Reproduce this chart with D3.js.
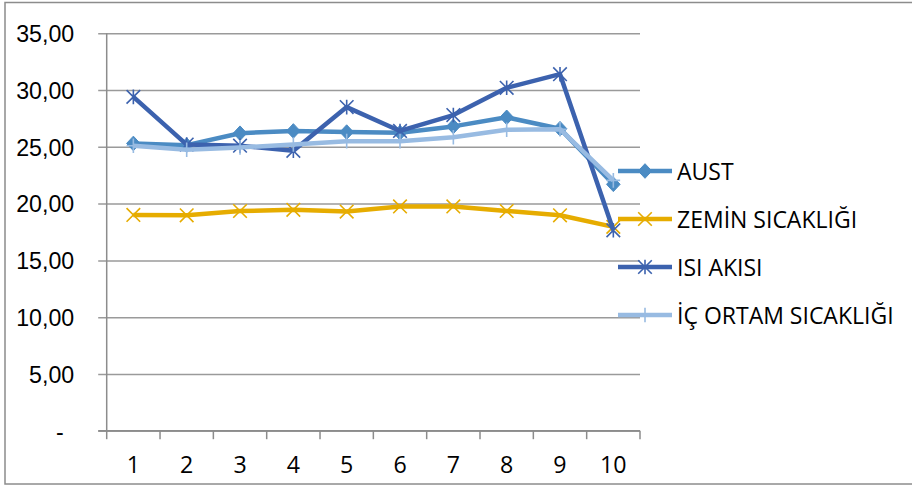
<!DOCTYPE html>
<html>
<head>
<meta charset="utf-8">
<script src="https://cdn.jsdelivr.net/npm/d3@7"></script>
<style>
  html, body { margin: 0; padding: 0; background: #fff; }
  svg { display: block; font-family: "Open Sans", "Noto Sans", sans-serif; }
</style>
</head>
<body>
<svg id="chart" width="912" height="487"></svg>
<script>
// Measurement points 1..10
const categories = ["1", "2", "3", "4", "5", "6", "7", "8", "9", "10"];

// Series values
const aust         = [25.30, 25.15, 26.20, 26.40, 26.30, 26.25, 26.80, 27.60, 26.60, 21.70];
const zeminSicakl  = [19.00, 18.97, 19.35, 19.45, 19.30, 19.75, 19.75, 19.35, 18.97, 17.95];
const isiAkisi     = [29.40, 25.20, 25.10, 24.65, 28.50, 26.40, 27.80, 30.20, 31.40, 17.65];
const icOrtam      = [25.10, 24.75, 24.95, 25.20, 25.50, 25.50, 25.85, 26.50, 26.55, 22.05];

// Axis ticks
const yTicks = [0, 5, 10, 15, 20, 25, 30, 35];

const seriesNames  = ["AUST", "ZEMİN SICAKLIĞI", "ISI AKISI", "İÇ ORTAM SICAKLIĞI"];
const seriesValues = [aust, zeminSicakl, isiAkisi, icOrtam];
const seriesColors = ["#4b8bc3", "#e6ac00", "#3c62ae", "#98bbe2"];
const seriesMarkers = ["diamond", "x", "star", "plus"];

const svg = d3.select("#chart");

// Chart frame
svg.append("rect")
  .attr("x", 5).attr("y", 2.5)
  .attr("width", 930).attr("height", 481.5)
  .attr("fill", "none").attr("stroke", "#8c8c8c").attr("stroke-width", 1.5);

const plot = { left: 106.7, right: 640, top: 33.3, bottom: 430.7 };

const x = d3.scaleBand().domain(categories).range([plot.left, plot.right]);
const y = d3.scaleLinear().domain([0, 35]).range([plot.bottom, plot.top]);

const trLocale = d3.formatLocale({ decimal: ",", thousands: ".", grouping: [3], currency: ["", ""] });
const fmt = trLocale.format(".2f");

// Horizontal gridlines with y-axis labels
const yAxis = d3.axisLeft(y)
  .tickValues(yTicks)
  .tickSize(-(plot.right - plot.left))
  .tickSizeOuter(0)
  .tickPadding(0)
  .tickFormat(d => d === 0 ? "-" : fmt(d));

const gy = svg.append("g")
  .attr("transform", `translate(${plot.left},0)`)
  .call(yAxis);
gy.select(".domain").remove();
gy.selectAll(".tick line")
  .attr("x1", -8.5)
  .attr("stroke", "#9a9a9a").attr("stroke-width", 1.5);
gy.selectAll(".tick text")
  .attr("x", d => d === 0 ? -43 : -32.5)
  .attr("dy", "0.36em")
  .attr("font-size", 23.2)
  .attr("fill", "#000");

// Vertical axis line
svg.append("line")
  .attr("x1", plot.left).attr("x2", plot.left)
  .attr("y1", plot.top).attr("y2", plot.bottom)
  .attr("stroke", "#8c8c8c").attr("stroke-width", 1.5);

// Category axis with boundary tick marks
const gx = svg.append("g")
  .attr("transform", `translate(0,${plot.bottom})`);
gx.append("line")
  .attr("x1", plot.left - 8.5).attr("x2", plot.right)
  .attr("stroke", "#8c8c8c").attr("stroke-width", 1.5);
const bounds = categories.map(c => x(c)).concat([x(categories[categories.length - 1]) + x.bandwidth()]);
gx.selectAll("line.bt").data(bounds).join("line")
  .attr("class", "bt")
  .attr("x1", d => d).attr("x2", d => d)
  .attr("y1", 0).attr("y2", 8.5)
  .attr("stroke", "#8c8c8c").attr("stroke-width", 1.5);
gx.selectAll("text").data(categories).join("text")
  .attr("x", d => x(d) + x.bandwidth() / 2)
  .attr("y", 42.8)
  .attr("text-anchor", "middle")
  .attr("font-size", 23.2)
  .attr("fill", "#000")
  .text(d => d);

// Marker shapes
function drawMarker(g, type, color, cx, cy) {
  const s = 6.8;
  if (type === "diamond") {
    g.append("path")
      .attr("d", `M${cx},${cy - s - 0.5}L${cx + s},${cy}L${cx},${cy + s + 0.5}L${cx - s},${cy}Z`)
      .attr("fill", color).attr("stroke", color).attr("stroke-width", 1);
  } else if (type === "x") {
    g.append("path")
      .attr("d", `M${cx - s},${cy - s}L${cx + s},${cy + s}M${cx - s},${cy + s}L${cx + s},${cy - s}`)
      .attr("stroke", color).attr("stroke-width", 1.6).attr("fill", "none");
  } else if (type === "star") {
    g.append("path")
      .attr("d", `M${cx - s},${cy - s}L${cx + s},${cy + s}M${cx - s},${cy + s}L${cx + s},${cy - s}M${cx},${cy - s - 0.5}L${cx},${cy + s + 0.5}`)
      .attr("stroke", color).attr("stroke-width", 1.6).attr("fill", "none");
  } else if (type === "plus") {
    g.append("path")
      .attr("d", `M${cx},${cy - s - 0.5}L${cx},${cy + s + 0.5}M${cx - s},${cy}L${cx + s},${cy}`)
      .attr("stroke", color).attr("stroke-width", 1.6).attr("fill", "none");
  }
}

const line = d3.line()
  .x((d, i) => x(categories[i]) + x.bandwidth() / 2)
  .y(d => y(d));

// Series lines and markers
seriesValues.forEach((vals, si) => {
  const g = svg.append("g");
  g.append("path")
    .datum(vals)
    .attr("d", line)
    .attr("fill", "none")
    .attr("stroke", seriesColors[si])
    .attr("stroke-width", 4.5)
    .attr("stroke-linejoin", "round");
  vals.forEach((v, i) => {
    drawMarker(g, seriesMarkers[si], seriesColors[si], x(categories[i]) + x.bandwidth() / 2, y(v));
  });
});

// Legend
const legend = svg.append("g").attr("transform", "translate(618,171)");
seriesNames.forEach((name, i) => {
  const g = legend.append("g").attr("transform", `translate(0,${i * 48})`);
  g.append("line")
    .attr("x1", 0).attr("x2", 54)
    .attr("stroke", seriesColors[i]).attr("stroke-width", 4.5);
  drawMarker(g, seriesMarkers[i], seriesColors[i], 27, 0);
  g.append("text")
    .attr("x", 59).attr("y", 8.5)
    .attr("font-size", 23)
    .attr("fill", "#000")
    .text(name);
});
</script>
</body>
</html>
